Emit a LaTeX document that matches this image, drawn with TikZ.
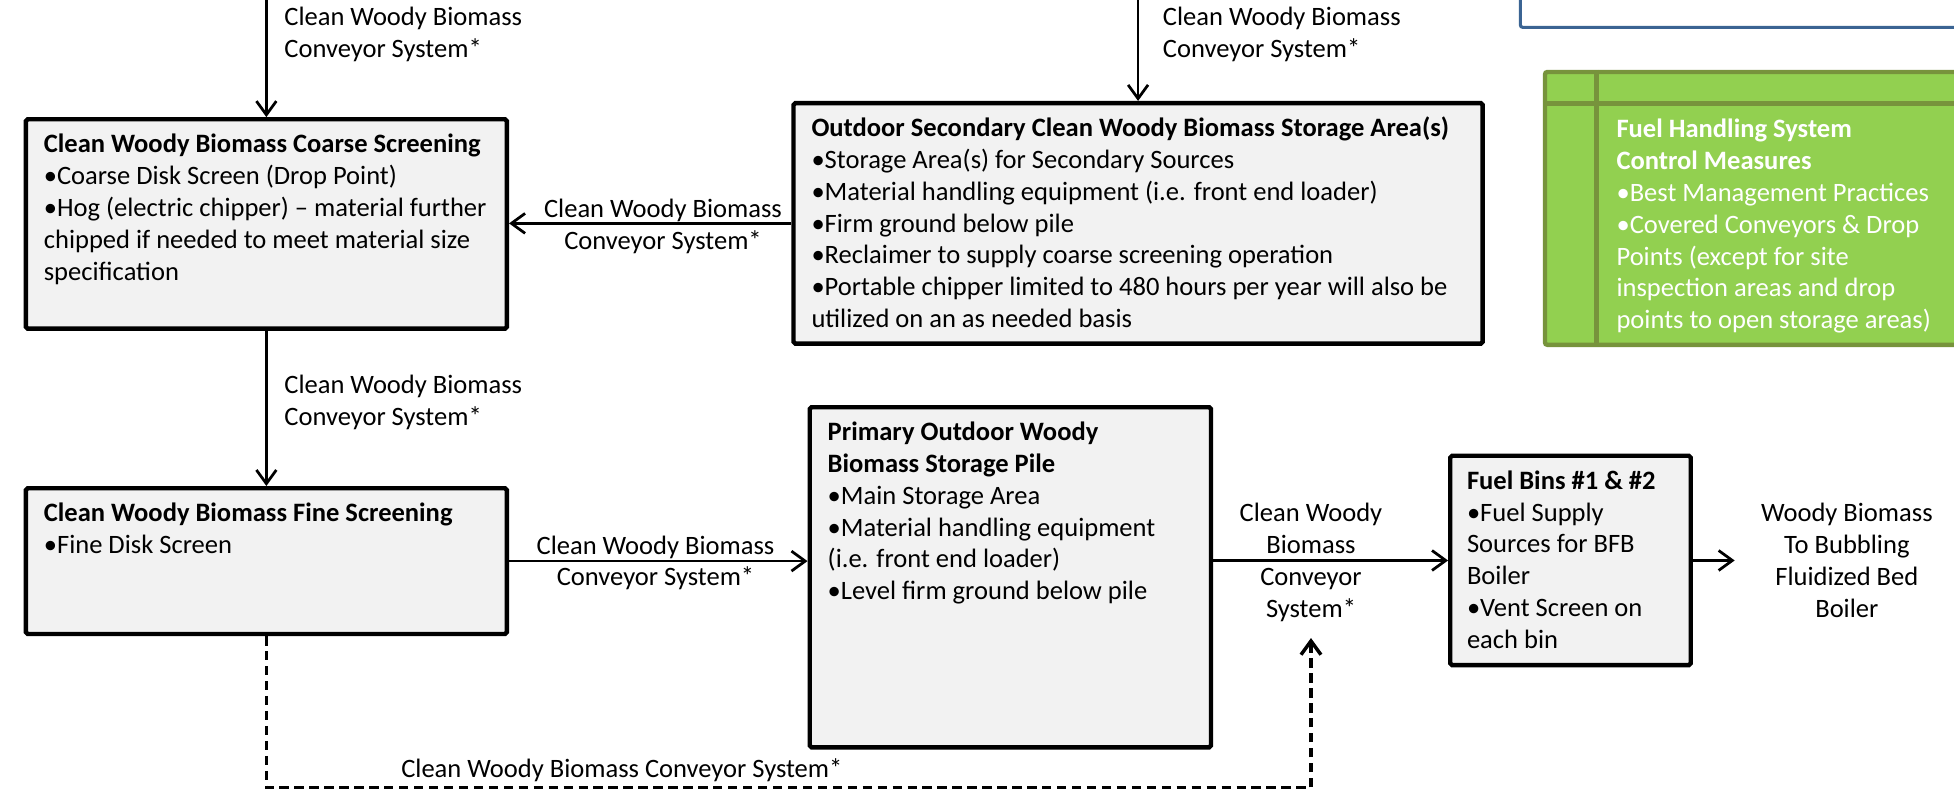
\documentclass[tikz,border=0pt]{standalone}
\usepackage{fontspec}
\setmainfont{Carlito}
\usetikzlibrary{arrows.meta}
\definecolor{boxfill}{HTML}{F2F2F2}
\definecolor{leafgreen}{HTML}{92D050}
\definecolor{leafedge}{HTML}{77933C}
\definecolor{frameblue}{HTML}{3B6493}

\tikzset{
  stagebox/.style={draw=black, line width=3.5pt, fill=boxfill, rounded corners=1.5pt,
    inner sep=0pt, anchor=north west},
  body/.style={font=\fontsize{21.3}{25.5}\selectfont, inner sep=0pt, align=left, anchor=north west},
  flowlabel/.style={font=\fontsize{21.3}{25.5}\selectfont, inner sep=0pt, align=center, anchor=north},
  conn/.style={line width=2.2pt, -{Straight Barb[length=11pt,width=16pt]}},
  feedback/.style={conn, line width=2.8pt, dash pattern=on 7.5pt off 4.5pt},
}

\begin{document}
\begin{tikzpicture}[x=1pt, y=-1pt]
\useasboundingbox (0,0) rectangle (1568,636);
\clip (0,0) rectangle (1568,636);

% legend frames at the top right
\draw[frameblue, line width=2.5pt, rounded corners=2pt] (1220,-20) rectangle (1600,22);
\node[draw=leafedge, fill=leafgreen, line width=3.5pt, rounded corners=2pt, inner sep=0pt,
      anchor=north west, minimum width=362pt, minimum height=219pt] (controls) at (1238,56) {};
\draw[leafedge, line width=3.5pt] (1281,56) -- (1281,275);
\draw[leafedge, line width=3.5pt] (1238,83) -- (1600,83);
\node[body, text=white] (controlstxt) at (1297,92.65)
  {\strut\textbf{Fuel Handling System}\\\textbf{Control Measures}\\•Best Management Practices\\
   •Covered Conveyors \& Drop\\Points (except for site\\inspection areas and drop\\
   points to open storage areas)};

% process stages
\node[stagebox, minimum width=386pt, minimum height=168pt] (coarse) at (19,94) {};
\node[body] (coarsetxt) at (35,104.65)
  {\strut\textbf{Clean Woody Biomass Coarse Screening}\\•Coarse Disk Screen (Drop Point)\\
   •Hog (electric chipper) – material further\\chipped if needed to meet material size\\specification};

\node[stagebox, minimum width=553pt, minimum height=193pt] (secondary) at (635,81) {};
\node[body] (secondarytxt) at (651,91.65)
  {\strut\textbf{Outdoor Secondary Clean Woody Biomass Storage Area(s)}\\
   •Storage Area(s) for Secondary Sources\\•Material handling equipment (i.e. front end loader)\\
   •Firm ground below pile\\•Reclaimer to supply coarse screening operation\\
   •Portable chipper limited to 480 hours per year will also be\\utilized on an as needed basis};

\node[stagebox, minimum width=386pt, minimum height=117pt] (fine) at (19,390) {};
\node[body] (finetxt) at (35,400.65)
  {\strut\textbf{Clean Woody Biomass Fine Screening}\\•Fine Disk Screen};

\node[stagebox, minimum width=322pt, minimum height=273pt] (primary) at (648,325) {};
\node[body] (primarytxt) at (664,335.65)
  {\strut\textbf{Primary Outdoor Woody}\\\textbf{Biomass Storage Pile}\\•Main Storage Area\\
   •Material handling equipment\\(i.e. front end loader)\\•Level firm ground below pile};

\node[stagebox, minimum width=193pt, minimum height=168pt] (bins) at (1162,364) {};
\node[body] (binstxt) at (1177,374.65)
  {\strut\textbf{Fuel Bins \#1 \& \#2}\\•Fuel Supply\\Sources for BFB\\Boiler\\•Vent Screen on\\each bin};

% conveyors
\coordinate (feedA) at (coarse.north |- 0,0);
\coordinate (feedB) at (secondary.north |- 0,0);
\coordinate (outlet) at (1392,0 |- bins.east);
\coordinate (merge) at (1052,512);

\draw[conn] (feedA) -- (coarse.north);
\node[body] (labelA) at (228,2.65) {\strut Clean Woody Biomass\\Conveyor System*};

\draw[conn] (feedB) -- (secondary.north);
\node[body] (labelB) at (933,2.65) {\strut Clean Woody Biomass\\Conveyor System*};

\draw[conn] (secondary.west) -- (secondary.west -| coarse.east);
\node[flowlabel] (labelC) at (532,156.65) {\strut Clean Woody Biomass\\Conveyor System*};

\draw[conn] (coarse.south) -- (fine.north);
\node[body] (labelD) at (228,297.65) {\strut Clean Woody Biomass\\Conveyor System*};

\draw[conn] (fine.east) -- (fine.east -| primary.west);
\node[flowlabel] (labelE) at (526,426.65) {\strut Clean Woody Biomass\\Conveyor System*};

\draw[conn] (bins.west -| primary.east) -- (bins.west);
\node[flowlabel] (labelF) at (1052,400.65) {\strut Clean Woody\\Biomass\\Conveyor\\System*};

\draw[conn] (bins.east) -- (outlet);
\node[flowlabel] (labelG) at (1482,400.65) {\strut Woody Biomass\\To Bubbling\\Fluidized Bed\\Boiler};

\draw[feedback] (fine.south) -- (fine.south |- 0,632) -| (merge);
\node[flowlabel] (labelH) at (499,605.65) {\strut Clean Woody Biomass Conveyor System*};
\end{tikzpicture}
\end{document}
